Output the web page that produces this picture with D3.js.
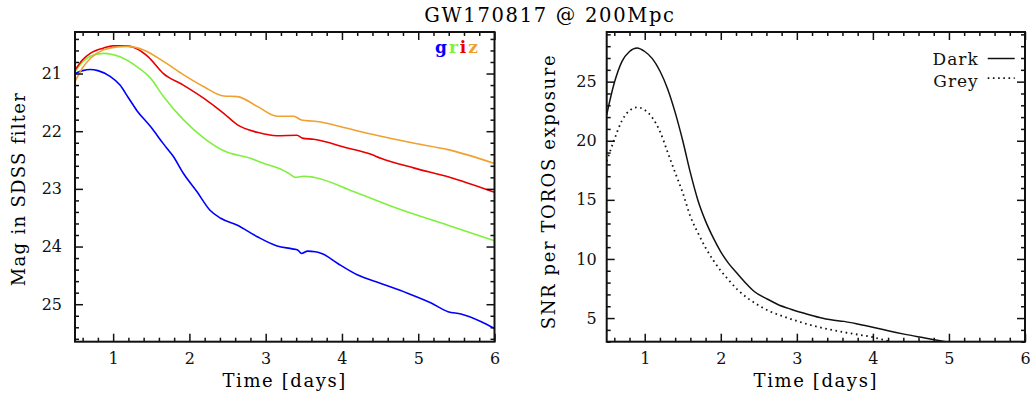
<!DOCTYPE html>
<html>
<head>
<meta charset="utf-8">
<script src="https://cdn.jsdelivr.net/npm/d3@7"></script>
<style>
  body { margin: 0; background: #fff; }
  text { font-family: "DejaVu Serif", serif; }
</style>
</head>
<body>
<div id="grafico"></div>
<script>
// curvas de luz griz
const TIEMPO_G = [0.5, 0.6, 0.7, 0.8, 0.96, 1.09, 1.2, 1.31, 1.49, 1.66, 1.79, 1.92, 2.1, 2.27, 2.41, 2.63, 2.89, 3.15, 3.35, 3.42, 3.47, 3.55, 3.65, 3.75, 3.94, 4.2, 4.51, 4.86, 5.17, 5.39, 5.56, 5.82, 6.0];
const MAG_G = [21.0, 20.95, 20.93, 20.95, 21.05, 21.2, 21.42, 21.64, 21.92, 22.22, 22.44, 22.73, 23.05, 23.37, 23.51, 23.63, 23.83, 23.99, 24.04, 24.06, 24.12, 24.08, 24.09, 24.13, 24.29, 24.49, 24.64, 24.81, 24.98, 25.13, 25.17, 25.3, 25.42];

const TIEMPO_R = [0.5, 0.6, 0.7, 0.87, 1.09, 1.31, 1.49, 1.66, 1.92, 2.19, 2.45, 2.8, 2.98, 3.2, 3.3, 3.39, 3.5, 3.63, 4.16, 4.73, 5.39, 6.0];
const MAG_R = [20.97, 20.8, 20.7, 20.65, 20.71, 20.88, 21.08, 21.4, 21.8, 22.12, 22.34, 22.47, 22.56, 22.66, 22.73, 22.8, 22.78, 22.8, 23.05, 23.34, 23.63, 23.9];

const TIEMPO_I = [0.5, 0.6, 0.7, 0.87, 1.0, 1.18, 1.31, 1.46, 1.66, 1.92, 2.19, 2.45, 2.63, 2.89, 3.15, 3.41, 3.48, 3.63, 4.07, 4.38, 4.51, 4.95, 5.39, 6.0];
const MAG_I = [20.94, 20.76, 20.65, 20.56, 20.52, 20.52, 20.57, 20.71, 21.0, 21.2, 21.43, 21.69, 21.89, 22.02, 22.08, 22.07, 22.12, 22.14, 22.29, 22.4, 22.47, 22.64, 22.79, 23.06];

const TIEMPO_Z = [0.5, 0.6, 0.7, 0.87, 1.05, 1.18, 1.4, 1.66, 1.92, 2.19, 2.45, 2.63, 2.89, 3.15, 3.37, 3.46, 3.72, 4.07, 4.38, 4.95, 5.39, 6.0];
const MAG_Z = [21.14, 20.9, 20.74, 20.59, 20.54, 20.53, 20.59, 20.79, 21.02, 21.23, 21.39, 21.4, 21.57, 21.74, 21.74, 21.8, 21.84, 21.95, 22.05, 22.21, 22.32, 22.56];

// SNR por exposición TOROS
const TIEMPO_DARK = [0.5, 0.6, 0.7, 0.8, 0.9, 1.0, 1.1, 1.2, 1.3, 1.4, 1.5, 1.6, 1.7, 1.8, 1.9, 2.0, 2.1, 2.22, 2.33, 2.44, 2.6, 2.75, 2.92, 3.1, 3.3, 3.45, 3.62, 3.8, 3.97, 4.2, 4.41, 4.7, 4.95];
const SNR_DARK = [22.2, 24.9, 26.7, 27.55, 27.85, 27.55, 26.95, 25.9, 24.4, 22.4, 20.0, 17.3, 14.95, 13.2, 11.8, 10.6, 9.65, 8.75, 7.95, 7.25, 6.65, 6.15, 5.75, 5.4, 5.05, 4.85, 4.72, 4.5, 4.26, 3.92, 3.64, 3.3, 3.0];

const TIEMPO_GREY = [0.5, 0.6, 0.7, 0.8, 0.9, 1.0, 1.1, 1.2, 1.3, 1.4, 1.5, 1.6, 1.7, 1.8, 1.9, 2.0, 2.1, 2.22, 2.35, 2.49, 2.65, 2.84, 3.05, 3.27, 3.5, 3.71, 3.97, 4.23];
const SNR_GREY = [18.26, 20.1, 21.7, 22.55, 22.83, 22.6, 21.95, 20.8, 19.05, 17.3, 15.6, 13.6, 12.2, 10.95, 9.9, 9.0, 8.25, 7.4, 6.7, 6.1, 5.55, 5.1, 4.65, 4.26, 3.95, 3.7, 3.42, 3.0];

const BANDAS = ["g", "r", "i", "z"];
const COLORES = ["#0000ff", "#80f040", "#e80000", "#f0a030"];
const LEYENDA_SNR = ["Dark", "Grey"];
const TICKS_X = [1, 2, 3, 4, 5, 6];
const TICKS_MAG = [21, 22, 23, 24, 25];
const TICKS_SNR = [5, 10, 15, 20, 25];

const WIDTH = 1031;
const HEIGHT = 396;
const TOP = 32;
const BOTTOM = 341.7;

const SVG = d3.select("#grafico").append("svg").attr("width", WIDTH).attr("height", HEIGHT);

SVG.append("text")
    .attr("x", 550).attr("y", 21.5)
    .attr("text-anchor", "middle")
    .attr("font-size", 19.5)
    .attr("letter-spacing", 1.7)
    .text("GW170817 @ 200Mpc");

// dibuja marco con ticks hacia adentro en los cuatro lados
function marco(g, x, y, menoresX, menoresY, padX, padY) {
    var w = x.range()[1] - x.range()[0];
    var h = y.range()[0] > y.range()[1] ? y.range()[0] - y.range()[1] : y.range()[1] - y.range()[0];
    var sinEtiqueta = () => "";
    var ejes = [
        [d3.axisBottom(x), "translate(0," + h + ")", true, menoresX, TICKS_X],
        [d3.axisTop(x), "translate(0,0)", false, menoresX, TICKS_X],
        [d3.axisLeft(y), "translate(0,0)", true, menoresY, null],
        [d3.axisRight(y), "translate(" + w + ",0)", false, menoresY, null]
    ];
    ejes.forEach(function(e, i) {
        var vert = i > 1;
        var mayores = vert ? g.datum() : e[4];
        var eje = e[0].tickValues(mayores).tickSizeInner(-8).tickSizeOuter(0)
            .tickPadding(vert ? padY : padX);
        if (!e[2]) eje.tickFormat(sinEtiqueta);
        else eje.tickFormat(d3.format("d"));
        var ga = g.append("g").attr("transform", e[1]).call(eje);
        ga.select(".domain").remove();
        ga.selectAll("line").attr("stroke", "#111").attr("stroke-width", 1.5);
        ga.selectAll("text").attr("font-family", "DejaVu Serif").attr("font-size", 16).attr("fill", "#111");
        // ticks menores
        var menor = (i == 0 ? d3.axisBottom(x) : i == 1 ? d3.axisTop(x) : i == 2 ? d3.axisLeft(y) : d3.axisRight(y))
            .tickValues(e[3]).tickSizeInner(-4).tickSizeOuter(0).tickFormat(sinEtiqueta);
        var gm = g.append("g").attr("transform", e[1]).call(menor);
        gm.select(".domain").remove();
        gm.selectAll("line").attr("stroke", "#111").attr("stroke-width", 1.5);
    });
    g.append("rect")
        .attr("width", w).attr("height", h)
        .attr("fill", "none").attr("stroke", "#111").attr("stroke-width", 2);
}

var menoresX = d3.range(3, 30).filter(i => i % 5 != 0).map(i => i / 5);

// panel izquierdo: magnitudes
const IZQ_X0 = 75, IZQ_X1 = 494.5;
var escalaX1 = d3.scaleLinear().domain([0.5, 6]).range([0, IZQ_X1 - IZQ_X0]);
var escalaY1 = d3.scaleLinear().domain([20.28, 25.65]).range([0, BOTTOM - TOP]);
var grafico1 = SVG.append("g").attr("transform", "translate(" + IZQ_X0 + "," + TOP + ")");

grafico1.append("clipPath").attr("id", "clip1").append("rect")
    .attr("width", IZQ_X1 - IZQ_X0).attr("height", BOTTOM - TOP);

var curvas = [[TIEMPO_G, MAG_G], [TIEMPO_R, MAG_R], [TIEMPO_I, MAG_I], [TIEMPO_Z, MAG_Z]];
var linea1 = d3.line().x(d => escalaX1(d[0])).y(d => escalaY1(d[1])).curve(d3.curveMonotoneX);

grafico1.selectAll(".banda")
    .data(curvas)
    .enter().append("path")
    .attr("class", "banda")
    .attr("clip-path", "url(#clip1)")
    .attr("d", d => linea1(d3.zip(d[0], d[1])))
    .attr("fill", "none")
    .attr("stroke", (d, i) => COLORES[i])
    .attr("stroke-width", 1.6);

var menoresMag = d3.range(102, 129).filter(i => i % 5 != 0).map(i => i / 5);
grafico1.datum(TICKS_MAG);
marco(grafico1, escalaX1, escalaY1, menoresX, menoresMag, 11, 13);

// leyenda griz
var leyenda1 = grafico1.append("text")
    .attr("x", 360).attr("y", 20.5)
    .attr("font-size", 17).attr("font-weight", "bold").attr("letter-spacing", 2);
leyenda1.selectAll("tspan")
    .data(BANDAS)
    .enter().append("tspan")
    .attr("fill", (d, i) => COLORES[i])
    .text(d => d);

SVG.append("text")
    .attr("transform", "translate(25," + 189 + ") rotate(-90)")
    .attr("text-anchor", "middle")
    .attr("font-size", 18).attr("letter-spacing", 1.3)
    .text("Mag in SDSS filter");

SVG.append("text")
    .attr("x", (IZQ_X0 + IZQ_X1) / 2).attr("y", 386.5)
    .attr("text-anchor", "middle")
    .attr("font-size", 18).attr("letter-spacing", 1.6)
    .text("Time [days]");

// panel derecho: SNR
const DER_X0 = 606.7, DER_X1 = 1025;
var escalaX2 = d3.scaleLinear().domain([0.5, 6]).range([0, DER_X1 - DER_X0]);
var escalaY2 = d3.scaleLinear().domain([3, 29.2]).range([BOTTOM - TOP, 0]);
var grafico2 = SVG.append("g").attr("transform", "translate(" + DER_X0 + "," + TOP + ")");

grafico2.append("clipPath").attr("id", "clip2").append("rect")
    .attr("width", DER_X1 - DER_X0).attr("height", BOTTOM - TOP);

var linea2 = d3.line().x(d => escalaX2(d[0])).y(d => escalaY2(d[1])).curve(d3.curveMonotoneX);
var snr = [[TIEMPO_DARK, SNR_DARK], [TIEMPO_GREY, SNR_GREY]];

grafico2.selectAll(".snr")
    .data(snr)
    .enter().append("path")
    .attr("class", "snr")
    .attr("clip-path", "url(#clip2)")
    .attr("d", d => linea2(d3.zip(d[0], d[1])))
    .attr("fill", "none")
    .attr("stroke", "#111")
    .attr("stroke-width", (d, i) => i == 0 ? 1.5 : 1.8)
    .attr("stroke-dasharray", (d, i) => i == 0 ? null : "1.6,3.6");

var menoresSnr = d3.range(3, 30).filter(i => i % 5 != 0);
grafico2.datum(TICKS_SNR);
marco(grafico2, escalaX2, escalaY2, menoresX, menoresSnr, 11, 10);

var leyenda2 = grafico2.selectAll(".leyenda")
    .data(LEYENDA_SNR)
    .enter().append("g")
    .attr("class", "leyenda")
    .attr("transform", (d, i) => "translate(0," + (i * 21.7) + ")");

leyenda2.append("text")
    .attr("x", 372).attr("y", 33)
    .attr("text-anchor", "end")
    .attr("font-size", 17).attr("letter-spacing", 1)
    .attr("fill", "#111")
    .text(d => d);

leyenda2.append("line")
    .attr("x1", 381).attr("x2", 408)
    .attr("y1", (d, i) => 26.5 - i * 2).attr("y2", (d, i) => 26.5 - i * 2)
    .attr("stroke", "#111")
    .attr("stroke-width", (d, i) => i == 0 ? 1.5 : 1.8)
    .attr("stroke-dasharray", (d, i) => i == 0 ? null : "1.6,3.6");

SVG.append("text")
    .attr("transform", "translate(555," + 191.5 + ") rotate(-90)")
    .attr("text-anchor", "middle")
    .attr("font-size", 18).attr("letter-spacing", 1.6)
    .text("SNR per TOROS exposure");

SVG.append("text")
    .attr("x", (DER_X0 + DER_X1) / 2).attr("y", 386.5)
    .attr("text-anchor", "middle")
    .attr("font-size", 18).attr("letter-spacing", 1.6)
    .text("Time [days]");
</script>
</body>
</html>
